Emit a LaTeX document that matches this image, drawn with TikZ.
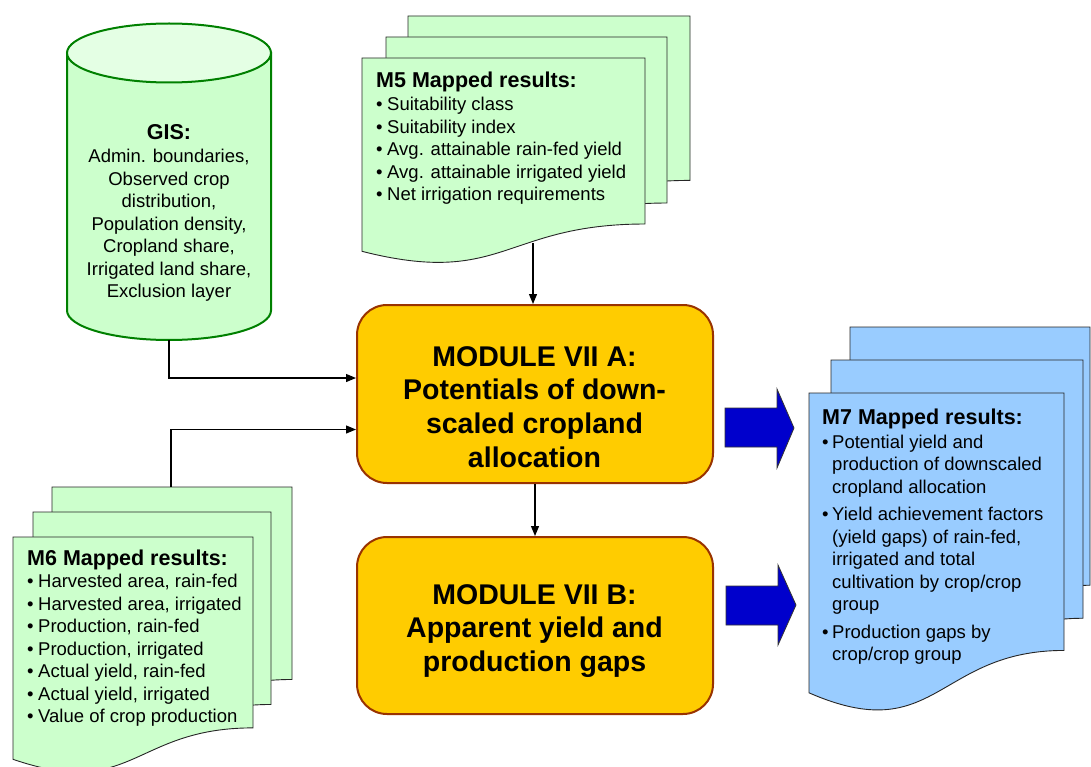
\documentclass[tikz,border=0pt]{standalone}
\usepackage{fontspec}
\setmainfont{Liberation Sans}
\usetikzlibrary{arrows.meta,calc}
\definecolor{docgreen}{RGB}{204,255,204}
\definecolor{gistop}{RGB}{228,255,228}
\definecolor{gisline}{RGB}{0,128,0}
\definecolor{docblue}{RGB}{153,204,255}
\definecolor{modfill}{RGB}{255,204,0}
\definecolor{modline}{RGB}{153,51,0}
\definecolor{arrblue}{RGB}{0,0,204}
\newcommand\docpage[5]{\filldraw[docpage,fill=#5] (#1,#2) -- ({#1+#3},#2) -- ({#1+#3},{#2+0.802*#4}) .. controls ({#1+0.5*#3},{#2+0.802*#4}) and ({#1+0.5*#3},{#2+1.1075*#4}) .. (#1,{#2+0.934*#4}) -- cycle;}
\newcommand\bul{\makebox[11pt][l]{•}}
\newcommand\bulm{\makebox[10pt][l]{•}}
\newcommand\ind{\hspace*{10pt}}
\newcommand\ttl[1]{{\fontsize{21.5}{22.5}\selectfont\bfseries #1}}
\tikzset{
  docpage/.style={draw=black!85, line width=0.9pt},
  modbox/.style={draw=modline, fill=modfill, line width=2pt, rounded corners=30pt, minimum width=356pt, inner sep=0pt},
  conn/.style={draw=black, line width=1.2pt, -{Triangle[length=10pt,width=8pt]}},
  bigarrow/.style={fill=arrblue, draw=black!80, line width=0.8pt},
  listtext/.style={inner sep=0pt, font=\fontsize{18.5}{22.5}\selectfont, anchor=base west},
  centertext/.style={inner sep=0pt, font=\fontsize{18.5}{22.5}\selectfont, anchor=base},
  modtext/.style={inner sep=0pt, font=\fontsize{28.5}{33.7}\selectfont\bfseries, anchor=base}
}
\begin{document}
\begin{tikzpicture}[x=1pt,y=-1pt]
\useasboundingbox (0,0) rectangle (1091,767);
\fill[white] (0,0) rectangle (1091,767);

% GIS cylinder
\filldraw[fill=docgreen, draw=gisline, line width=2pt] (67,53) -- (67,310.5) arc[start angle=180, end angle=0, x radius=102, y radius=29.5] -- (271,53) -- cycle;
\filldraw[fill=gistop, draw=gisline, line width=2pt] (169,53) ellipse[x radius=102, y radius=29.5];
\node[centertext] (gis) at (169,139.5) {\begin{tabular}[t]{@{}c@{}}\ttl{GIS:}\\[1pt]
Admin. boundaries,\\ Observed crop\\ distribution,\\ Population density,\\ Cropland share,\\ Irrigated land share,\\ Exclusion layer\end{tabular}};
\coordinate (gisbot) at (169,340);

% M5 documents
\docpage{408}{16}{282}{205}{docgreen}
\docpage{386}{37}{281}{207}{docgreen}
\docpage{362}{58}{283}{207}{docgreen}
\node[listtext] (m5) at (376,88) {\begin{tabular}[t]{@{}l@{}}\ttl{M5 Mapped results:}\\[0.5pt]
\bul Suitability class\\ \bul Suitability index\\ \bul Avg. attainable rain-fed yield\\ \bul Avg. attainable irrigated yield\\ \bul Net irrigation requirements\end{tabular}};
\coordinate (m5bot) at (533,243);

% M6 documents
\docpage{52}{487}{240}{240}{docgreen}
\docpage{33}{512}{238}{240}{docgreen}
\docpage{13}{537}{240}{238}{docgreen}
\node[listtext] (m6) at (27,565) {\begin{tabular}[t]{@{}l@{}}\ttl{M6 Mapped results:}\\[0pt]
\bul Harvested area, rain-fed\\ \bul Harvested area, irrigated\\ \bul Production, rain-fed\\ \bul Production, irrigated\\ \bul Actual yield, rain-fed\\ \bul Actual yield, irrigated\\ \bul Value of crop production\end{tabular}};
\coordinate (m6top) at (171,487);

% M7 documents
\docpage{850}{327}{240}{322}{docblue}
\docpage{831}{360}{252}{322}{docblue}
\docpage{809}{393}{255}{321}{docblue}
\node[listtext] (m7) at (822,424) {\begin{tabular}[t]{@{}l@{}}\ttl{M7 Mapped results:}\\[1.5pt]
\bulm Potential yield and\\ \ind production of downscaled\\ \ind cropland allocation\\[5pt]
\bulm Yield achievement factors\\ \ind (yield gaps) of rain-fed,\\ \ind irrigated and total\\ \ind cultivation by crop/crop\\ \ind group\\[5pt]
\bulm Production gaps by\\ \ind crop/crop group\end{tabular}};

% Modules
\node[modbox, minimum height=178pt] (modA) at (535,394) {};
\node[modtext] (modAt) at (534.5,366) {\begin{tabular}[t]{@{}c@{}}MODULE VII A:\\ Potentials of down-\\ scaled cropland\\ allocation\end{tabular}};
\node[modbox, minimum height=177pt] (modB) at (535,625.5) {};
\node[modtext] (modBt) at (534.5,604) {\begin{tabular}[t]{@{}c@{}}MODULE VII B:\\ Apparent yield and\\ production gaps\end{tabular}};

% connectors
\draw[conn] (m5bot) -- (m5bot |- modA.north);
\draw[conn] (gisbot) |- ([yshift=16pt]modA.west);
\draw[conn] (m6top) |- ([yshift=-35.5pt]modA.west);
\draw[conn] (modA.south) -- (modB.north);

% big blue arrows
\filldraw[bigarrow] (725,408) -- (777,408) -- (777,389) -- (794,428) -- (777,468) -- (777,447) -- (725,447) -- cycle;
\filldraw[bigarrow] (726,586) -- (778,586) -- (778,565) -- (796,605) -- (778,645) -- (778,625) -- (726,625) -- cycle;
\end{tikzpicture}
\end{document}
